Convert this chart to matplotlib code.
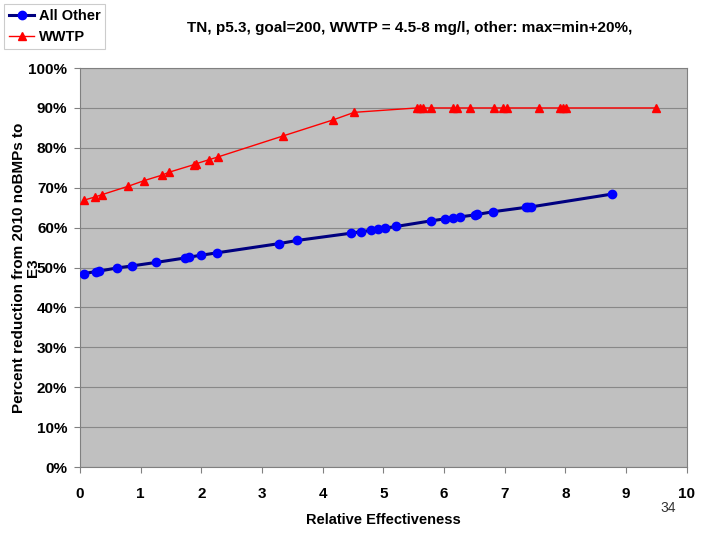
import matplotlib
matplotlib.use('Agg')
import matplotlib.pyplot as plt
from matplotlib.ticker import PercentFormatter

# data
other_x = [0.07, 0.26, 0.31, 0.61, 0.85, 1.26, 1.73, 1.79, 2.00, 2.26, 3.28, 3.58,
           4.46, 4.63, 4.79, 4.91, 5.03, 5.21, 5.78, 6.01, 6.15, 6.26, 6.51, 6.54,
           6.81, 7.35, 7.39, 7.43, 8.76]
other_y = [48.5, 49.0, 49.1, 49.9, 50.4, 51.3, 52.4, 52.6, 53.1, 53.7, 56.0, 56.8,
           58.6, 59.0, 59.3, 59.6, 59.9, 60.3, 61.7, 62.2, 62.5, 62.7, 63.2, 63.3,
           64.0, 65.1, 65.2, 65.2, 68.4]

wwtp_x = [0.07, 0.25, 0.37, 0.80, 1.06, 1.36, 1.47, 1.88, 1.91, 2.12, 2.27, 3.35,
          4.17, 4.52, 5.55, 5.60, 5.66, 5.78, 6.15, 6.21, 6.43, 6.82, 6.97, 7.04,
          7.56, 7.91, 7.96, 8.01, 9.49]
wwtp_y = [66.9, 67.7, 68.3, 70.4, 71.8, 73.2, 73.9, 75.8, 76.0, 77.0, 77.7, 83.0,
          87.0, 88.9, 90.0, 90.0, 90.0, 90.0, 90.0, 90.0, 90.0, 90.0, 90.0, 90.0,
          90.0, 90.0, 90.0, 90.0, 90.0]

x_ticks = list(range(0, 11))
y_ticks = list(range(0, 101, 10))

fnt = ['Liberation Sans', 'DejaVu Sans']

fig = plt.figure(figsize=(7.2, 5.4), dpi=100)
ax = fig.add_axes([0.111, 0.135, 0.843, 0.739])
ax.set_facecolor('#c0c0c0')

ax.plot(other_x, other_y, color='#000080', linewidth=2.2, marker='o',
        markersize=6, markerfacecolor='#0000ff', markeredgecolor='#0000ff',
        label='All Other', zorder=3)
ax.plot(wwtp_x, wwtp_y, color='#ff0000', linewidth=1.0, marker='^',
        markersize=5.5, markerfacecolor='#ff0000', markeredgecolor='#ff0000',
        label='WWTP', zorder=3)

ax.set_xlim(0, 10)
ax.set_ylim(0, 100)
ax.set_xticks(x_ticks)
ax.set_yticks(y_ticks)
ax.yaxis.set_major_formatter(PercentFormatter(decimals=0))
ax.grid(axis='y', color='#888888', linewidth=0.8)
ax.set_axisbelow(True)
for s in ax.spines.values():
    s.set_color('#808080')
ax.tick_params(colors='#808080', labelcolor='black', length=4, width=0.8)
ax.tick_params(axis='x', pad=10)
ax.tick_params(axis='y', pad=5)
for lab in ax.get_xticklabels() + ax.get_yticklabels():
    lab.set_family(fnt)
    lab.set_fontweight('bold')
    lab.set_fontsize(11)

ax.set_xlabel('Relative Effectiveness', family=fnt, fontweight='bold',
              fontsize=10.5, labelpad=9)
ax.set_ylabel('Percent reduction from 2010 noBMPs to\nE3', family=fnt,
              fontweight='bold', fontsize=11, linespacing=1.0)
ax.yaxis.set_label_coords(-0.066, 0.5)

fig.text(0.569, 0.948, 'TN, p5.3, goal=200, WWTP = 4.5-8 mg/l, other: max=min+20%,',
         ha='center', va='center', family=fnt, fontweight='bold', fontsize=11)
fig.text(0.928, 0.06, '34', ha='center', va='center', family=fnt,
         fontsize=10, color='#333333')

leg = fig.legend(loc='upper left', bbox_to_anchor=(0.006, 0.992),
                 prop={'family': fnt, 'weight': 'bold', 'size': 10.5},
                 frameon=True, fancybox=False, handlelength=1.7,
                 handletextpad=0.3, borderpad=0.35, labelspacing=0.45,
                 borderaxespad=0.0)
leg.get_frame().set_edgecolor('#c0c0c0')
leg.get_frame().set_linewidth(0.8)

plt.savefig('out.png', dpi=100)
